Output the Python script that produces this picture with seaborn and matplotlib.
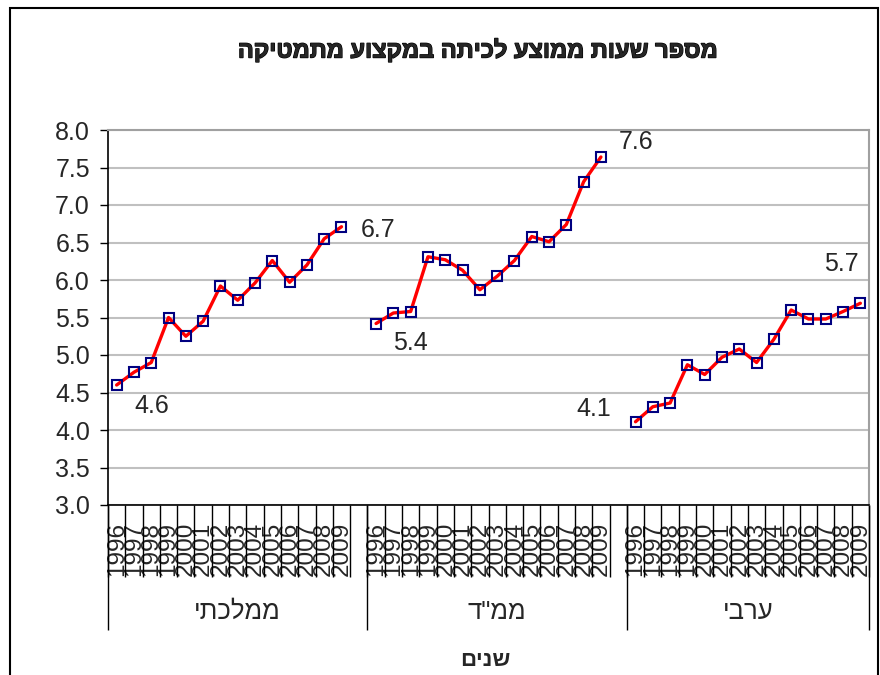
import matplotlib
matplotlib.use('Agg')
import matplotlib.pyplot as plt
import matplotlib.patheffects as pe
from matplotlib.patches import Rectangle
import numpy as np
import pandas as pd
import seaborn as sns

# Data
years = list(range(1996, 2010))
groups = ['ממלכתי', 'ממ"ד', 'ערבי']
mamlachti = [4.60, 4.77, 4.90, 5.50, 5.25, 5.45, 5.92, 5.73, 5.96, 6.26, 5.97, 6.20, 6.55, 6.71]
mamad = [5.42, 5.56, 5.58, 6.31, 6.27, 6.13, 5.87, 6.05, 6.26, 6.58, 6.51, 6.74, 7.31, 7.64]
aravi = [4.11, 4.31, 4.36, 4.87, 4.74, 4.97, 5.08, 4.90, 5.21, 5.60, 5.48, 5.48, 5.58, 5.69]
title = 'מספר שעות ממוצע לכיתה במקצוע מתמטיקה'
xlabel = 'שנים'
yticks = np.arange(3.0, 8.01, 0.5)

# first / last point of every group gets a value label (offsets in points)
label_offsets = [[(25, -15), (26, -2)],
                 [(25, -14), (25, 11)],
                 [(-30, 9), (-14, 28)]]


def rtl(s):
  # matplotlib has no bidi support, so feed Hebrew in visual order
  return s[::-1]


slot = len(years) + 1  # an empty category separates the groups
rows = []
for g, (name, vals) in enumerate(zip(groups, [mamlachti, mamad, aravi])):
  for i, v in enumerate(vals):
    rows.append({'group': name, 'pos': g * slot + i, 'value': v})
df = pd.DataFrame(rows)

sns.set_style('white')
plt.rcParams['font.family'] = ['Liberation Sans', 'DejaVu Sans']

fig = plt.figure(figsize=(8.8, 6.75), dpi=100)
ax = fig.add_axes([108 / 880, 1 - 505 / 675, 761 / 880, 375 / 675])

sns.lineplot(data=df, x='pos', y='value', units='group', estimator=None,
             color='#ff0000', lw=2.4, marker='s', markersize=7.5,
             markerfacecolor='none', markeredgecolor='#000080',
             markeredgewidth=1.5, legend=False, ax=ax)

# value labels
for g, name in enumerate(groups):
  sub = df[df['group'] == name]
  for k, idx in enumerate([0, len(sub) - 1]):
    x, v = sub['pos'].iloc[idx], sub['value'].iloc[idx]
    ax.annotate(f'{v:.1f}', (x, v), xytext=label_offsets[g][k],
                textcoords='offset points', ha='center', va='center',
                fontsize=18)

n_cat = slot * len(groups) - 1
ax.set_xlim(-0.5, n_cat - 0.5)
ax.set_ylim(3, 8)
ax.set_yticks(yticks)
ax.set_yticklabels([f'{v:.1f}' for v in yticks])
ax.yaxis.grid(True, color='#c0c0c0', lw=1.5)
ax.xaxis.grid(False)
ax.tick_params(axis='y', direction='out', length=6, width=1, color='black',
               labelsize=18, pad=7, left=True)

# category axis: year labels + tick lines between categories
xlabels = []
for g in range(len(groups)):
  xlabels += [str(y) for y in years] + ['']
xlabels = xlabels[:n_cat]
ax.set_xticks(np.arange(n_cat))
ax.set_xticklabels(xlabels, rotation=90, fontsize=17.5)
ax.tick_params(axis='x', which='major', length=0, pad=12)
ax.set_xticks(np.arange(-0.5, n_cat, 1), minor=True)
ax.tick_params(axis='x', which='minor', direction='out', length=52, width=1,
               color='black', bottom=True)
ax.set_xlabel('')
ax.set_ylabel('')

# group separators and group names
edges = [g * slot - 0.5 for g in range(len(groups))] + [n_cat - 0.5]
ax.vlines(edges, 0, -0.3333, transform=ax.get_xaxis_transform(),
          clip_on=False, color='black', lw=1)
for g, name in enumerate(groups):
  ax.text((edges[g] + edges[g + 1]) / 2, -0.2853, rtl(name),
          transform=ax.get_xaxis_transform(), ha='center', va='center',
          fontsize=18.5)

for side in ['left', 'bottom']:
  ax.spines[side].set_color('black')
  ax.spines[side].set_linewidth(1.2)
for side in ['top', 'right']:
  ax.spines[side].set_color('#a0a0a0')
  ax.spines[side].set_linewidth(1.5)

fig.text(478 / 880, 1 - 50 / 675, rtl(title), ha='center', va='center',
         fontsize=17, fontweight='bold',
         path_effects=[pe.withStroke(linewidth=0.9, foreground='black')])
fig.text(485 / 880, 1 - 660 / 675, rtl(xlabel), ha='center', va='center',
         fontsize=16, fontweight='bold')

# outer chart frame
fig.patches.append(Rectangle((10 / 880, -0.1), 868 / 880, 1 - 8 / 675 + 0.1,
                             transform=fig.transFigure, fill=False,
                             ec='black', lw=1.5))

fig.savefig('out.png', dpi=100)
